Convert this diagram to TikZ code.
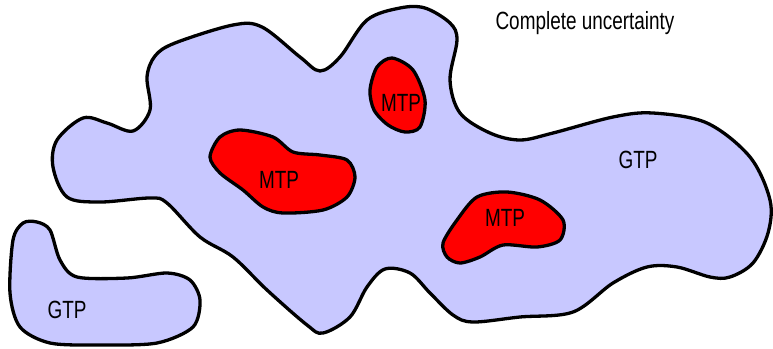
\documentclass[tikz,border=0pt]{standalone}
\usepackage{fontspec}
\setmainfont{Liberation Sans}
\definecolor{gtpblue}{RGB}{200,200,255}
\newcommand{\narrowtext}[1]{\scalebox{0.76}[1]{#1}}
\begin{document}
\begin{tikzpicture}[x=1bp,y=-1bp,
  region/.style={draw=black,line width=3.3bp,line join=round},
  gtp/.style={region,fill=gtpblue},
  mtp/.style={region,fill=red},
  lbl/.style={font=\fontsize{25}{27}\selectfont,inner sep=0pt}]
\useasboundingbox (0,0) rectangle (773,348);
% large region
\draw[gtp] plot[smooth cycle,tension=0.55] coordinates {
  (133,131) (150,110) (147,77) (155,56) (175,43) (233,25) (262,27)
  (300,57) (320,71) (340,57) (367,20) (400,8) (425,8) (450,23) (457,40)
  (450,80) (460,113) (490,133) (520,140) (553,133) (613,117) (653,113)
  (707,123) (750,157) (770,200) (768,233) (753,263) (730,277) (710,277)
  (677,267) (647,267) (613,283) (573,312) (520,317) (473,322) (453,315)
  (430,293) (410,273) (385,269) (367,287) (350,317) (323,333) (307,325)
  (267,290) (233,257) (200,237) (167,203) (150,198) (100,202) (67,197)
  (53,167) (57,140) (83,118) (107,123)};
% small region
\draw[gtp] plot[smooth cycle] coordinates {
  (37,222) (50,230) (60,260) (77,277) (127,278) (167,273) (190,280)
  (200,300) (193,327) (157,343) (100,345) (50,343) (20,327) (10,293)
  (13,240) (23,223)};
% inner regions
\draw[mtp] plot[smooth cycle] coordinates {
  (210,157) (220,137) (240,130) (273,137) (293,152) (320,155) (347,160)
  (355,177) (347,197) (323,210) (283,213) (263,207) (243,190) (220,173)};
\draw[mtp] plot[smooth cycle] coordinates {
  (370,90) (377,67) (392,58) (413,70) (425,100) (420,127) (405,132)
  (388,125) (374,110)};
\draw[mtp] plot[smooth cycle] coordinates {
  (443,243) (457,220) (477,197) (507,192) (540,200) (563,220) (560,240)
  (537,247) (503,245) (480,257) (460,263) (447,257)};
% labels
\node[lbl] (uncertain) at (585,23) {\narrowtext{Complete uncertainty}};
\node[lbl] (gtpA) at (638,160) {\narrowtext{GTP}};
\node[lbl] (gtpB) at (67,310) {\narrowtext{GTP}};
\node[lbl] (mtpA) at (279,180) {\narrowtext{MTP}};
\node[lbl] (mtpB) at (401,103) {\narrowtext{MTP}};
\node[lbl] (mtpC) at (505,218) {\narrowtext{MTP}};
\end{tikzpicture}
\end{document}
